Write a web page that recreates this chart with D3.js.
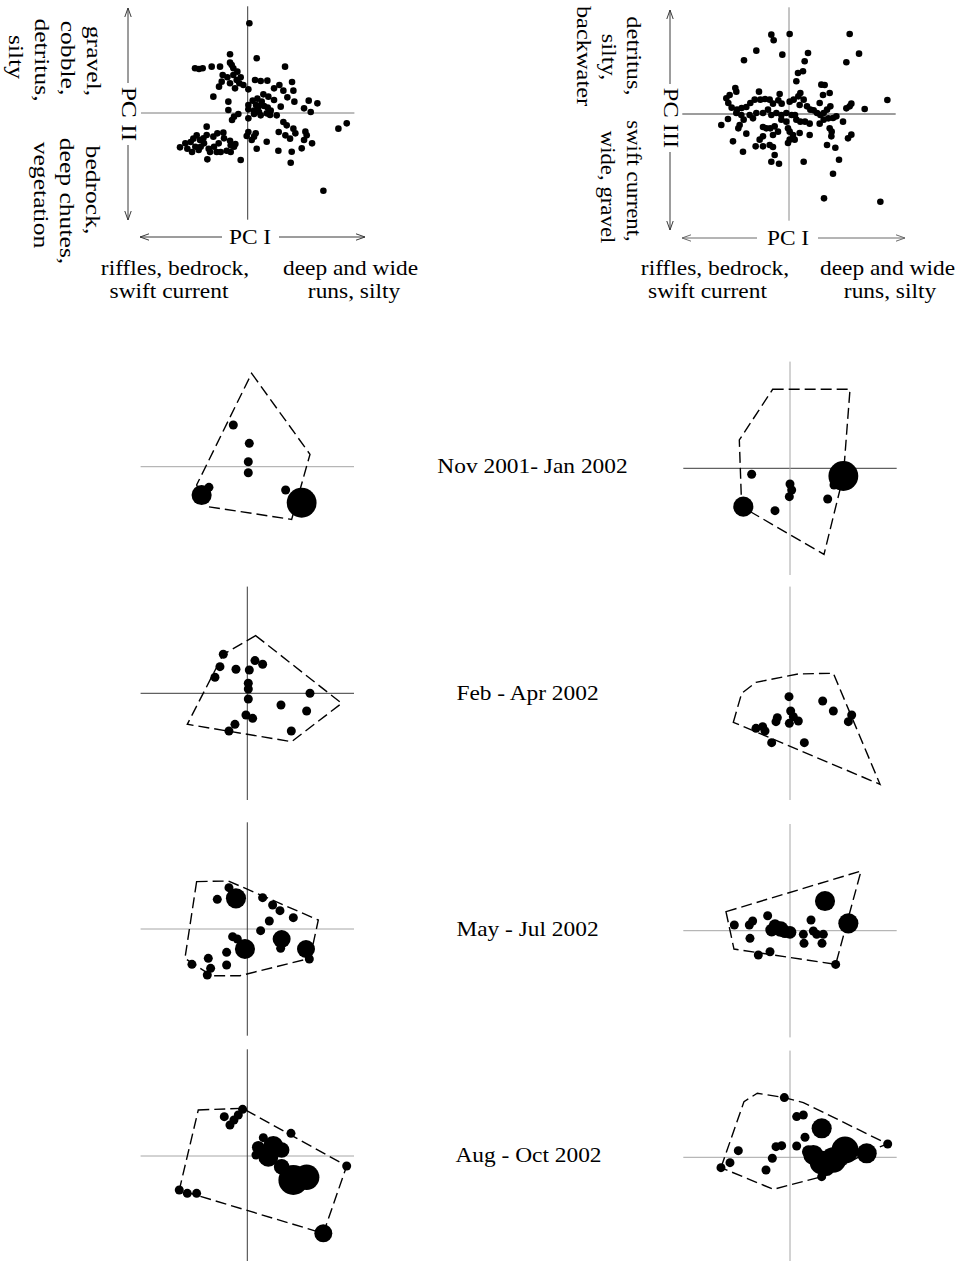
<!DOCTYPE html>
<html><head><meta charset="utf-8">
<script src="https://cdn.jsdelivr.net/npm/d3@7"></script>
<style>
body{margin:0;background:#fff}
text{font-family:"Liberation Serif","Times New Roman",serif;fill:#000}
</style>
</head><body>
<svg id="chart" width="971" height="1261"></svg>
<script>
// Site scores on PC I / PC II
const sitesI_II = [
[0.05,2.69],[-0.53,1.76],[0.27,1.64],[1.12,1.39],[-1.58,1.34],[-1.46,1.32],[-1.35,1.34],[-1.08,1.39],[-0.83,1.39],[-0.53,1.51],[-0.43,1.34],[-0.31,1.24],[-0.75,1.14],[-0.61,1.07],[-0.43,1.14],[-0.33,0.99],[-0.53,0.89],[-0.78,0.94],[-0.86,0.79],[-0.38,0.74],[-0.21,1.07],[-0.13,0.84],[-1.03,0.49],[-0.58,0.34],[0.02,0.71],[0.22,0.99],[0.39,0.96],[0.59,0.97],[0.79,0.74],[0.95,0.84],[1.07,0.67],[1.33,0.93],[1.37,0.67],[1.19,0.47],[1.40,0.34],[0.79,0.39],[0.62,0.49],[0.47,0.56],[0.29,0.43],[0.15,0.37],[0.02,0.24],[0.02,0.11],[0.19,0.07],[0.34,0.03],[0.49,0.21],[0.60,0.16],[0.69,0.07],[0.87,-0.07],[0.99,0.19],[1.83,0.37],[2.09,0.29],[1.69,0.14],[1.89,0.03],[-0.58,0.09],[-0.41,-0.11],[-0.47,-0.21],[-0.28,-0.03],[0.02,-0.16],[0.19,-0.03],[0.39,-0.07],[0.57,-0.01],[1.07,-0.27],[1.17,-0.37],[1.37,-0.47],[0.93,-0.57],[1.13,-0.67],[1.27,-0.77],[1.43,-0.61],[1.73,-0.56],[1.77,-0.67],[1.69,-0.81],[1.93,-0.91],[1.62,-1.06],[1.32,-1.16],[0.92,-1.13],[1.29,-1.49],[2.27,-2.33],[2.72,-0.47],[2.97,-0.31],[0.57,-0.86],[0.27,-1.07],[0.19,-0.71],[0.02,-0.57],[-0.03,-0.69],[0.12,-0.81],[0.24,-0.61],[-0.21,-1.41],[-0.51,-0.97],[-0.37,-0.93],[-1.23,-0.41],[-1.53,-0.67],[-1.63,-0.77],[-1.43,-0.81],[-1.23,-0.66],[-1.03,-0.71],[-0.91,-0.61],[-0.73,-0.59],[-0.71,-0.76],[-0.53,-0.83],[-2.03,-1.03],[-1.87,-0.91],[-1.81,-1.07],[-1.71,-0.87],[-1.57,-1.01],[-1.41,-1.01],[-1.31,-0.91],[-1.17,-1.07],[-1.01,-1.01],[-0.87,-0.91],[-0.81,-1.17],[-0.63,-1.13],[-0.51,-1.17],[-1.13,-1.17],[-1.21,-1.39],[-0.93,-1.17],[-1.67,-1.17],[-1.47,-1.11],[-0.41,-1.01],[-1.33,-0.76],[-0.48,1.44],[-0.25,0.89],[0.25,0.24],[0.42,0.34],[0.67,-0.06],[0.32,0.19]
];

// Site scores on PC I / PC III
const sitesI_III = [
[-0.53,2.38],[-0.46,2.21],[0.02,2.40],[1.82,2.40],[2.10,1.81],[1.72,1.55],[-0.98,1.90],[-1.35,1.61],[-0.20,1.78],[0.57,1.83],[0.47,1.58],[0.42,1.28],[0.27,1.23],[0.22,0.98],[0.97,0.88],[1.07,0.87],[1.02,0.57],[1.22,0.63],[0.92,0.33],[-1.61,0.78],[-1.58,0.67],[-1.78,0.57],[-1.88,0.47],[-1.82,0.33],[-1.72,0.19],[-1.56,0.13],[-1.42,0.18],[-1.28,0.21],[-1.16,0.33],[-1.03,0.43],[-0.90,0.67],[-0.86,0.43],[-0.72,0.45],[-0.58,0.43],[-0.48,0.31],[-0.32,0.41],[-0.28,0.60],[-0.22,0.31],[0.02,0.37],[0.14,0.43],[0.28,0.53],[0.34,0.63],[0.44,0.43],[0.32,0.27],[0.54,0.23],[0.64,0.13],[0.74,0.11],[0.84,0.03],[0.94,-0.03],[1.04,0.03],[1.14,0.13],[1.24,0.23],[1.04,-0.17],[1.18,-0.13],[1.32,-0.12],[1.42,-0.07],[1.62,-0.23],[1.82,0.23],[1.87,0.31],[1.72,0.17],[2.27,0.15],[2.95,0.42],[-2.03,-0.33],[-1.83,-0.15],[-1.58,0.03],[-1.43,-0.03],[-1.36,-0.17],[-1.18,-0.03],[-1.08,-0.13],[-0.98,0.03],[-0.78,0.03],[-0.63,0.13],[-0.53,-0.03],[-0.38,0.03],[-0.23,-0.03],[-0.08,0.03],[0.08,-0.03],[0.18,-0.03],[0.22,-0.17],[0.34,-0.23],[0.48,-0.23],[0.62,-0.29],[0.92,-0.29],[1.22,-0.43],[1.28,-0.53],[1.27,-0.67],[1.87,-0.62],[1.77,-0.73],[-1.48,-0.33],[-1.52,-0.43],[-1.28,-0.59],[-0.78,-0.39],[-0.68,-0.43],[-0.56,-0.43],[-0.43,-0.37],[-0.33,-0.53],[-0.48,-0.63],[-0.78,-0.67],[-0.88,-0.77],[-1.00,-0.97],[-0.78,-0.97],[-0.58,-0.93],[-0.48,-0.99],[-1.68,-0.82],[-1.38,-1.13],[-0.43,-1.23],[-0.53,-1.43],[-0.30,-1.49],[-0.03,-0.43],[0.02,-0.53],[0.12,-0.63],[0.02,-0.77],[-0.03,-0.87],[0.17,-0.77],[0.32,-0.57],[0.62,-0.63],[0.44,-1.43],[1.14,-0.93],[1.39,-1.01],[1.50,-1.37],[1.32,-1.79],[1.05,-2.53],[2.74,-2.63],[-0.08,-0.23],[-0.23,-0.17]
];

const periods = ["Nov 2001- Jan 2002", "Feb - Apr 2002", "May - Jul 2002", "Aug - Oct 2002"];

// Assemblage scores per period: [pc, pc, abundance]
const novI_II = [[-0.42,1.25,1],[0.06,0.70,1],[0.03,0.15,1],[0.03,-0.18,1],[-1.37,-0.85,5],[-1.15,-0.62,1],[1.15,-0.70,1],[1.63,-1.08,11]];
const novHullI_II = [[0.13,2.80],[1.88,0.37],[1.33,-1.58],[-1.17,-1.20],[-1.52,-0.55]];
const novI_III = [[-1.15,-0.18,1],[0.00,-0.47,1],[0.05,-0.65,1],[-0.02,-0.85,1],[-1.40,-1.15,5],[-0.45,-1.27,1],[1.13,-0.92,1],[1.60,-0.23,11],[1.32,-0.50,1]];
const novHullI_III = [[-0.52,2.37],[1.80,2.37],[1.60,-0.23],[1.02,-2.58],[-1.45,-1.15],[-1.52,0.85]];

const febI_II = [[-0.72,1.17,1],[-0.82,0.80,1],[-0.97,0.48,1],[-0.34,0.72,1],[0.06,0.70,1],[0.23,0.98,1],[0.46,0.87,1],[0.03,0.30,1],[0.03,0.13,1],[0.03,-0.17,1],[-0.04,-0.65,1],[0.16,-0.75,1],[-0.37,-0.93,1],[-0.55,-1.13,1],[1.88,0.00,1],[1.01,-0.35,1],[1.78,-0.53,1],[1.32,-1.13,1]];
const febHullI_II = [[0.25,1.73],[2.83,-0.30],[1.33,-1.45],[-1.80,-0.93],[-0.72,1.17]];
const febI_III = [[-0.03,-0.10,1],[0.98,-0.23,1],[1.30,-0.53,1],[1.85,-0.65,1],[1.75,-0.85,1],[-0.38,-0.73,1],[-0.42,-0.85,1],[0.02,-0.53,1],[0.10,-0.70,1],[0.25,-0.83,1],[-0.02,-0.90,1],[-1.02,-1.05,1],[-0.82,-1.00,1],[-0.75,-1.13,1],[-0.55,-1.48,1],[0.43,-1.48,1]];
const febHullI_III = [[-1.70,-0.87],[-1.45,0.00],[-1.02,0.33],[0.25,0.58],[1.30,0.60],[2.70,-2.73]];

const mayI_II = [[-0.55,1.24,1],[-0.34,0.92,5],[-0.90,0.89,1],[0.46,0.94,1],[0.76,0.72,1],[0.98,0.55,1],[1.38,0.34,1],[0.66,0.24,1],[0.40,-0.05,1],[-0.44,-0.23,1],[-0.30,-0.30,1],[-0.07,-0.60,5],[1.03,-0.30,4],[1.00,-0.58,1],[1.76,-0.60,4],[1.86,-0.90,1],[-0.62,-0.70,1],[-1.17,-0.88,1],[-0.62,-1.08,1],[-1.10,-1.18,1],[-1.20,-1.38,1],[-1.66,-1.06,1]];
const mayHullI_II = [[-1.52,1.42],[-0.57,1.44],[2.13,0.27],[1.88,-0.88],[-0.22,-1.40],[-1.07,-1.40],[-1.87,-0.88]];
const mayI_III = [[1.05,0.89,5],[1.75,0.22,5],[-1.67,0.17,1],[-1.12,0.29,1],[-1.22,0.17,1],[-0.67,0.45,1],[-1.20,-0.23,1],[-0.55,0.02,2],[-0.45,0.15,2],[-0.28,0.05,3],[-0.15,-0.03,2],[0.00,-0.05,2],[0.63,0.32,1],[0.40,-0.11,1],[0.42,-0.38,1],[0.70,-0.01,1],[0.80,-0.11,1],[1.00,-0.11,1],[0.96,-0.38,1],[-0.95,-0.73,1],[-0.60,-0.63,1],[1.37,-1.01,1]];
const mayHullI_III = [[-1.92,0.57],[2.13,1.79],[1.37,-1.01],[-1.68,-0.55]];

const augI_II = [[-0.14,1.40,1],[-0.27,1.23,1],[-0.69,1.18,1],[-0.52,0.93,1],[-0.40,1.08,1],[1.31,0.68,1],[0.48,0.55,1],[0.33,0.26,2],[0.78,0.30,5],[0.63,-0.02,5],[0.26,0.03,1],[1.03,0.18,3],[1.03,-0.32,3],[1.38,-0.72,11],[1.78,-0.64,8],[2.98,-0.30,1],[-2.04,-1.02,1],[-1.80,-1.12,1],[-1.52,-1.12,1],[2.28,-2.32,4]];
const augHullI_II = [[-1.47,1.38],[-0.14,1.43],[2.98,-0.30],[2.28,-2.32],[-2.04,-1.02]];
const augI_III = [[-0.17,1.79,1],[0.20,1.22,1],[0.40,1.27,1],[0.95,0.87,5],[0.45,0.60,1],[0.20,0.34,1],[-0.42,0.32,1],[-0.25,0.35,1],[-1.55,0.20,1],[-0.53,-0.03,1],[-0.72,-0.38,1],[-1.80,-0.16,1],[-2.07,-0.31,1],[2.93,0.40,1],[0.70,0.07,5],[0.95,-0.16,7],[1.30,-0.08,8],[1.65,0.22,9],[2.30,0.12,5],[1.10,-0.33,3],[0.95,-0.58,1],[0.55,0.17,2]];
const augHullI_III = [[-2.07,-0.31],[-1.38,1.67],[-0.98,1.92],[-0.17,1.79],[0.40,1.64],[2.93,0.40],[2.50,0.24],[0.95,-0.58],[-0.50,-0.96]];

const svg = d3.select("#chart");
const DARK = "#3a3a3a", LIGHT = "#a6a6a6";
const HALF = 106.7;           // half-width of every ordination frame, px
const LIM = 3.2;              // score range shown on each side of the origin

function frame(cx, cy) {
  return {
    x: d3.scaleLinear().domain([-LIM, LIM]).range([cx - HALF, cx + HALF]),
    y: d3.scaleLinear().domain([-LIM, LIM]).range([cy + HALF, cy - HALF])
  };
}

function crossLines(g, s, hColor, vColor) {
  if (hColor) g.append("line").attr("x1", s.x(-LIM)).attr("x2", s.x(LIM))
    .attr("y1", s.y(0)).attr("y2", s.y(0)).attr("stroke", hColor).attr("stroke-width", 1);
  if (vColor) g.append("line").attr("x1", s.x(0)).attr("x2", s.x(0))
    .attr("y1", s.y(-LIM)).attr("y2", s.y(LIM)).attr("stroke", vColor).attr("stroke-width", 1);
}

// ---------- site ordination plots ----------
function arrow(g, x1, y1, x2, y2, gap0, gap1, color) {
  const horiz = y1 === y2;
  const segs = horiz ? [[x1, gap0], [gap1, x2]] : [[y1, gap0], [gap1, y2]];
  segs.forEach(([a, b]) => {
    g.append("line").attr("stroke", color).attr("stroke-width", 1)
      .attr("x1", horiz ? a : x1).attr("x2", horiz ? b : x1)
      .attr("y1", horiz ? y1 : a).attr("y2", horiz ? y1 : b);
  });
  const L = 9, W = 3.2;
  const heads = horiz
    ? [[[x1 + L, y1 - W], [x1, y1], [x1 + L, y1 + W]], [[x2 - L, y1 - W], [x2, y1], [x2 - L, y1 + W]]]
    : [[[x1 - W, y1 + L], [x1, y1], [x1 + W, y1 + L]], [[x1 - W, y2 - L], [x1, y2], [x1 + W, y2 - L]]];
  heads.forEach(p => g.append("path").attr("d", d3.line()(p))
    .attr("fill", "none").attr("stroke", color).attr("stroke-width", 1));
}

const FS = 20;
const H_STRETCH = 1.17;   // horizontal labels are set slightly wide

// rotated (reading downwards) label block; one centre per line
function vText(g, lines, x0, centres, step, stretch) {
  lines.forEach((l, i) => {
    g.append("text")
      .attr("transform", `translate(${x0 - i * step},${centres[i]}) rotate(90) scale(${stretch},1)`)
      .attr("text-anchor", "middle").style("font-size", FS + "px").text(l);
  });
}

function hText(g, lines, centres, y0, step) {
  lines.forEach((l, i) => {
    g.append("text")
      .attr("transform", `translate(${centres[i]},${y0 + i * step}) scale(${H_STRETCH},1)`)
      .attr("text-anchor", "middle").style("font-size", FS + "px").text(l);
  });
}

// PC I vs PC II
{
  const g = svg.append("g");
  const s = frame(247.7, 113);
  crossLines(g, s, "#7a7a7a", DARK);
  g.selectAll("circle").data(sitesI_II).join("circle")
    .attr("cx", d => s.x(d[0])).attr("cy", d => s.y(d[1])).attr("r", 3.3).attr("fill", "#000");
  arrow(g, 128, 8, 128, 220, 83, 145, DARK);
  arrow(g, 140, 237, 365, 237, 222, 279, DARK);
  vText(g, ["PC II"], 121.5, [114], 0, 1.28);
  hText(g, ["PC I"], [250], 243.5, 0);
  vText(g, ["gravel,", "cobble,", "detritus,", "silty"], 87, [61, 58, 60, 57], 26, 1.28);
  vText(g, ["bedrock,", "deep chutes,", "vegetation"], 86, [190, 201, 195], 26, 1.28);
  hText(g, ["riffles, bedrock,", "swift current"], [175, 169], 275, 23);
  hText(g, ["deep and wide", "runs, silty"], [350.5, 354], 275, 23);
}

// PC I vs PC III
{
  const g = svg.append("g");
  const s = frame(789, 114);
  crossLines(g, s, DARK, "#8a8a8a");
  g.selectAll("circle").data(sitesI_III).join("circle")
    .attr("cx", d => s.x(d[0])).attr("cy", d => s.y(d[1])).attr("r", 3.3).attr("fill", "#000");
  arrow(g, 670, 10, 670, 230, 84, 152, DARK);
  arrow(g, 682, 238, 905, 238, 757, 818, "#6a6a6a");
  vText(g, ["PC III"], 663.5, [118], 0, 1.22);
  hText(g, ["PC I"], [788], 244.5, 0);
  vText(g, ["detritus,", "silty,", "backwater"], 627, [56, 57, 56], 25, 1.22);
  vText(g, ["swift current,", "wide, gravel"], 627, [181, 187], 26, 1.14);
  hText(g, ["riffles, bedrock,", "swift current"], [715, 707.5], 275, 23);
  hText(g, ["deep and wide", "runs, silty"], [887.5, 890], 275, 23);
}

// ---------- seasonal assemblage panels ----------
const rScale = d3.scaleSqrt().domain([0, 11]).range([0, 4.5 * Math.sqrt(11)]);
const hullLine = d3.line().curve(d3.curveLinearClosed);

const panels = [
  { pts: novI_II, hull: novHullI_II, cx: 247.3, cy: 466.7, h: LIGHT, v: null },
  { pts: novI_III, hull: novHullI_III, cx: 790, cy: 468.3, h: DARK, v: LIGHT },
  { pts: febI_II, hull: febHullI_II, cx: 247.3, cy: 693.3, h: DARK, v: DARK },
  { pts: febI_III, hull: febHullI_III, cx: 790, cy: 693.3, h: null, v: LIGHT },
  { pts: mayI_II, hull: mayHullI_II, cx: 247.3, cy: 929, h: LIGHT, v: DARK },
  { pts: mayI_III, hull: mayHullI_III, cx: 790, cy: 930.7, h: LIGHT, v: LIGHT },
  { pts: augI_II, hull: augHullI_II, cx: 247.3, cy: 1156, h: LIGHT, v: DARK },
  { pts: augI_III, hull: augHullI_III, cx: 790, cy: 1157.3, h: LIGHT, v: LIGHT }
];

panels.forEach(p => {
  const g = svg.append("g");
  const s = frame(p.cx, p.cy);
  crossLines(g, s, p.h, p.v);
  g.append("path").attr("d", hullLine(p.hull.map(d => [s.x(d[0]), s.y(d[1])])))
    .attr("fill", "none").attr("stroke", "#000").attr("stroke-width", 1.4)
    .attr("stroke-dasharray", "11,5");
  g.selectAll("circle").data(p.pts).join("circle")
    .attr("cx", d => s.x(d[0])).attr("cy", d => s.y(d[1])).attr("r", d => rScale(d[2]))
    .attr("fill", "#000");
});

const periodY = [473, 699.5, 935.5, 1162];
const periodX = [532.5, 527.5, 527.5, 528.5];
periods.forEach((t, i) => {
  svg.append("text")
    .attr("transform", `translate(${periodX[i]},${periodY[i]}) scale(${H_STRETCH},1)`)
    .attr("text-anchor", "middle").style("font-size", FS + "px").text(t);
});
</script>
</body></html>
